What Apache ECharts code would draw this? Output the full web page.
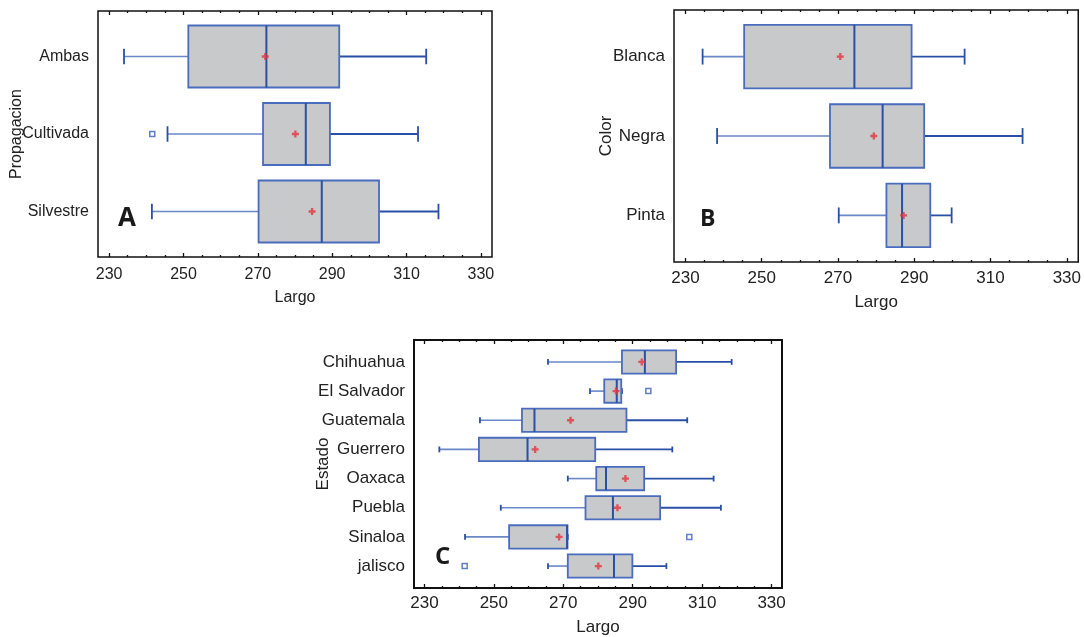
<!DOCTYPE html>
<html>
<head>
<meta charset="utf-8">
<title>Largo por grupo</title>
<script src="https://cdn.jsdelivr.net/npm/echarts@6/dist/echarts.min.js"></script>
<style>
  html, body { margin: 0; padding: 0; background: #fff; }
  #chart { width: 1084px; height: 637px; }
</style>
</head>
<body>
<div id="chart"></div>
<script>
// eje Largo
var majorTicks = [230, 250, 270, 290, 310, 330];
var minorTicks = [235, 240, 245, 255, 260, 265, 275, 280, 285, 295, 300, 305, 315, 320, 325];

// A - Propagacion
var propCats = ['Ambas', 'Cultivada', 'Silvestre'];
var propLow = [234.0, 245.7, 241.5];
var propQ1 = [251.3, 271.4, 270.2];
var propMed = [272.3, 282.9, 287.2];
var propQ3 = [291.9, 289.4, 302.6];
var propHigh = [315.3, 313.1, 318.6];
var propMean = [272.0, 280.1, 284.6];
var propOutliers = [[241.6, 1]];

// B - Color
var colorCats = ['Blanca', 'Negra', 'Pinta'];
var colorLow = [234.5, 238.3, 270.2];
var colorQ1 = [245.4, 267.9, 282.7];
var colorMed = [274.3, 281.7, 286.8];
var colorQ3 = [289.3, 292.6, 294.2];
var colorHigh = [303.2, 318.4, 299.8];
var colorMean = [270.6, 279.4, 287.2];
var colorOutliers = [];

// C - Estado
var estadoCats = ['Chihuahua', 'El Salvador', 'Guatemala', 'Guerrero', 'Oaxaca', 'Puebla', 'Sinaloa', 'jalisco'];
var estadoLow = [265.6, 277.7, 246.0, 234.3, 271.3, 252.0, 241.7, 265.6];
var estadoQ1 = [286.9, 281.8, 258.1, 245.7, 279.5, 276.4, 254.4, 271.3];
var estadoMed = [293.5, 285.4, 261.7, 259.7, 282.3, 284.3, 271.1, 284.6];
var estadoQ3 = [302.5, 286.7, 288.2, 279.2, 293.3, 297.9, 271.2, 289.9];
var estadoHigh = [318.5, 286.9, 305.7, 301.4, 313.3, 315.4, 271.3, 299.7];
var estadoMean = [292.6, 285.2, 272.1, 261.9, 287.9, 285.6, 268.8, 280.1];
var estadoOutliers = [[294.5, 1], [306.3, 6], [241.6, 7]];

var FONT = '"Liberation Sans", Arial, sans-serif';
var BOX_FILL = '#c8c9cb';
var BOX_LINE = '#4a6cbd';
var DARK_BLUE = '#2a4fa6';

var myChart = echarts.init(document.getElementById('chart'));

function boxData(low, q1, med, q3, high) {
    return low.map(function (v, i) {
        return [i, v, q1[i], med[i], q3[i], high[i]];
    });
}

function renderBox(params, api) {
    var c = api.value(0);
    var pLow = api.coord([api.value(1), c]);
    var pQ1 = api.coord([api.value(2), c]);
    var pMed = api.coord([api.value(3), c]);
    var pQ3 = api.coord([api.value(4), c]);
    var pHigh = api.coord([api.value(5), c]);
    var unit = Math.abs(api.size([0, 1])[1]);
    var half = unit * 0.4;
    var cap = unit * 0.1;
    var y = pMed[1];
    return {
        type: 'group',
        children: [
            { type: 'line', shape: { x1: pLow[0], y1: y, x2: pQ1[0], y2: y },
              style: { stroke: '#6a87c8', lineWidth: 1.6 } },
            { type: 'line', shape: { x1: pQ3[0], y1: y, x2: pHigh[0], y2: y },
              style: { stroke: DARK_BLUE, lineWidth: 1.8 } },
            { type: 'line', shape: { x1: pLow[0], y1: y - cap, x2: pLow[0], y2: y + cap },
              style: { stroke: DARK_BLUE, lineWidth: 1.8 } },
            { type: 'line', shape: { x1: pHigh[0], y1: y - cap, x2: pHigh[0], y2: y + cap },
              style: { stroke: DARK_BLUE, lineWidth: 1.8 } },
            { type: 'rect', shape: { x: pQ1[0], y: y - half, width: pQ3[0] - pQ1[0], height: half * 2 },
              style: { fill: BOX_FILL, stroke: BOX_LINE, lineWidth: 1.8 } },
            { type: 'line', shape: { x1: pMed[0], y1: y - half, x2: pMed[0], y2: y + half },
              style: { stroke: DARK_BLUE, lineWidth: 2 } }
        ]
    };
}

// 4 ejes x por panel: abajo (mayor + menor) y arriba (mayor + menor)
function largoAxes(gridIndex, fontSize, labelMargin, nameGap) {
    var axes = [];
    ['bottom', 'top'].forEach(function (pos) {
        [true, false].forEach(function (major) {
            axes.push({
                type: 'value',
                gridIndex: gridIndex,
                position: pos,
                min: 227,
                max: 333,
                name: (pos === 'bottom' && major) ? 'Largo' : '',
                nameLocation: 'middle',
                nameGap: nameGap,
                nameMoveOverlap: false,
                nameTextStyle: { fontFamily: FONT, fontSize: fontSize, color: '#222' },
                axisLine: { show: false, onZero: false },
                axisTick: {
                    show: true,
                    inside: true,
                    customValues: major ? majorTicks : minorTicks,
                    length: major ? 4 : 2,
                    lineStyle: { color: '#111', width: 1.3 }
                },
                axisLabel: {
                    show: pos === 'bottom' && major,
                    customValues: majorTicks,
                    margin: labelMargin,
                    fontFamily: FONT,
                    fontSize: fontSize,
                    color: '#222'
                },
                splitLine: { show: false }
            });
        });
    });
    return axes;
}

function catAxis(gridIndex, cats, pad, name, fontSize, nameGap) {
    return {
        type: 'value',
        gridIndex: gridIndex,
        inverse: true,
        min: -pad,
        max: cats.length - 1 + pad,
        name: name,
        nameLocation: 'middle',
        nameGap: nameGap,
        nameRotate: 90,
        nameMoveOverlap: false,
        nameTextStyle: { fontFamily: FONT, fontSize: fontSize, color: '#222' },
        axisLine: { show: false, onZero: false },
        axisTick: { show: false },
        splitLine: { show: false },
        axisLabel: {
            customValues: cats.map(function (c, i) { return i; }),
            formatter: function (v) { return cats[v]; },
            margin: 9,
            fontFamily: FONT,
            fontSize: fontSize,
            color: '#222'
        }
    };
}

function panelSeries(axisIdx, yIdx, low, q1, med, q3, high, mean, outliers) {
    return [
        {
            type: 'custom',
            xAxisIndex: axisIdx,
            yAxisIndex: yIdx,
            renderItem: renderBox,
            encode: { x: [1, 2, 3, 4, 5], y: 0 },
            data: boxData(low, q1, med, q3, high),
            z: 2
        },
        {
            type: 'scatter',
            xAxisIndex: axisIdx,
            yAxisIndex: yIdx,
            symbol: 'path://M2,0H4V2H6V4H4V6H2V4H0V2H2Z',
            symbolSize: 7,
            itemStyle: { color: '#e5333b' },
            data: mean.map(function (v, i) { return [v, i]; }),
            z: 5
        },
        {
            type: 'scatter',
            xAxisIndex: axisIdx,
            yAxisIndex: yIdx,
            symbol: 'rect',
            symbolSize: 5,
            itemStyle: { color: '#fff', borderColor: '#3a5fb8', borderWidth: 1.5 },
            data: outliers,
            z: 5
        }
    ];
}

var gridStyle = { show: true, borderColor: '#111', borderWidth: 1.5, backgroundColor: 'transparent' };

var xAxes = [].concat(
    largoAxes(0, 16, 10, 33),
    largoAxes(1, 17, 8, 32),
    largoAxes(2, 17, 7, 31)
);

var series = [].concat(
    panelSeries(0, 0, propLow, propQ1, propMed, propQ3, propHigh, propMean, propOutliers),
    panelSeries(4, 1, colorLow, colorQ1, colorMed, colorQ3, colorHigh, colorMean, colorOutliers),
    panelSeries(8, 2, estadoLow, estadoQ1, estadoMed, estadoQ3, estadoHigh, estadoMean, estadoOutliers)
);

var letterStyle = { fontWeight: 700, fontFamily: '"Open Sans", "Noto Sans", sans-serif', fill: '#1a1a1a', verticalAlign: 'middle' };

myChart.setOption({
    backgroundColor: '#fff',
    animation: false,
    grid: [
        Object.assign({ left: 98, right: 592, top: 11, bottom: 380 }, gridStyle),
        Object.assign({ left: 674, right: 4, top: 10, bottom: 375 }, gridStyle),
        Object.assign({ left: 414, right: 302, top: 340, bottom: 47 }, gridStyle, { borderWidth: 2 })
    ],
    xAxis: xAxes,
    yAxis: [
        catAxis(0, propCats, 0.587, 'Propagacion', 16, 73),
        catAxis(1, colorCats, 0.587, 'Color', 17, 59),
        catAxis(2, estadoCats, 0.753, 'Estado', 17, 82)
    ],
    graphic: [
        { type: 'text', style: Object.assign({ text: 'A', x: 118, y: 219, fontSize: 26 }, letterStyle) },
        { type: 'text', style: Object.assign({ text: 'B', x: 700, y: 219, fontSize: 23 }, letterStyle) },
        { type: 'text', style: Object.assign({ text: 'C', x: 435, y: 557, fontSize: 24 }, letterStyle) }
    ],
    series: series
});
</script>
</body>
</html>
